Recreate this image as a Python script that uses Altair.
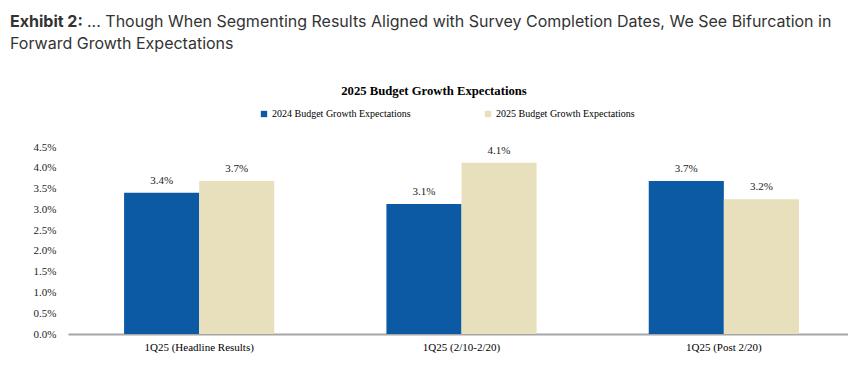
import altair as alt
import pandas as pd

categories = ["1Q25 (Headline Results)", "1Q25 (2/10-2/20)", "1Q25 (Post 2/20)"]
series_names = ["2024 Budget Growth Expectations", "2025 Budget Growth Expectations"]
values_2024 = [3.40, 3.13, 3.68]
values_2025 = [3.68, 4.12, 3.24]
y_ticks = [0.0, 0.5, 1.0, 1.5, 2.0, 2.5, 3.0, 3.5, 4.0, 4.5]
colors = ["#0B5AA3", "#E8DFBD"]

header_bold = "Exhibit 2:"
header_line1 = "... Though When Segmenting Results Aligned with Survey Completion Dates, We See Bifurcation in"
header_line2 = "Forward Growth Expectations"
chart_title = "2025 Budget Growth Expectations"

rows = []
for c, a, b in zip(categories, values_2024, values_2025):
    rows.append({"cat": c, "series": series_names[0], "val": a})
    rows.append({"cat": c, "series": series_names[1], "val": b})
df = pd.DataFrame(rows)

SERIF = "Liberation Serif"
SANS = "Inter"

x_enc = alt.X("cat:N", sort=categories, title=None,
              scale=alt.Scale(paddingInner=0, paddingOuter=0, range=[0, 787]),
              axis=alt.Axis(labelAngle=0, labelFont=SERIF, labelFontSize=11,
                            labelColor="#000", ticks=False, labelPadding=7,
                            domainColor="#A6A6A6", domainWidth=2))
xo_enc = alt.XOffset("series:N", sort=series_names,
                     scale=alt.Scale(paddingInner=0, paddingOuter=0.747))
y_enc = alt.Y("val:Q", title=None,
              scale=alt.Scale(domain=[0, 4.5], nice=False, zero=True),
              axis=alt.Axis(values=y_ticks, tickCount=10,
                            labelExpr="format(datum.value, '.1f') + '%'",
                            grid=False, domain=False, ticks=False, labelPadding=12,
                            labelOverlap=False, labelFont=SERIF, labelFontSize=11,
                            labelColor="#222"))

base = alt.Chart(df)
bars = base.mark_bar().encode(
    x=x_enc,
    xOffset=xo_enc,
    y=y_enc,
    color=alt.Color("series:N", sort=series_names,
                    scale=alt.Scale(domain=series_names, range=colors),
                    legend=alt.Legend(title=None, orient="none", direction="horizontal",
                                      legendX=191, legendY=-38, symbolType="square",
                                      symbolSize=40, symbolStrokeWidth=0,
                                      labelFont=SERIF, labelFontSize=10, labelColor="#000",
                                      columnPadding=72, symbolOffset=0, labelOffset=3)),
)
labels = base.mark_text(baseline="bottom", dy=-7, font=SERIF, fontSize=11, color="#222").encode(
    x=x_enc,
    xOffset=xo_enc,
    y=y_enc,
    text=alt.Text("label:N"),
).transform_calculate(label="format(datum.val, '.1f') + '%'")

def txt(s, x, y, **kw):
    return alt.Chart(pd.DataFrame({"t": [s]})).mark_text(align="left", baseline="alphabetic", **kw).encode(
        x=alt.value(x), y=alt.value(y), text="t:N")

h1 = txt(header_bold, -58, -120, font=SANS, fontSize=16, fontWeight="bold", color="#333")
h2 = txt(header_line1, 19, -120, font=SANS, fontSize=16, color="#333")
h3 = txt(header_line2, -58, -98, font=SANS, fontSize=16, color="#333")
t1 = alt.Chart(pd.DataFrame({"t": [chart_title]})).mark_text(
    align="center", baseline="alphabetic", font=SERIF, fontSize=12.7, fontWeight="bold", color="#000"
).encode(x=alt.value(366), y=alt.value(-52), text="t:N")

chart = alt.layer(bars, labels, h1, h2, h3, t1).properties(
    width=780, height=187,
    autosize=alt.AutoSizeParams(type="none"),
    padding={"left": 60, "top": 139, "right": 0, "bottom": 30},
).configure_view(stroke=None)

chart.save("out.html", embed_options={"renderer": "svg", "actions": False})
